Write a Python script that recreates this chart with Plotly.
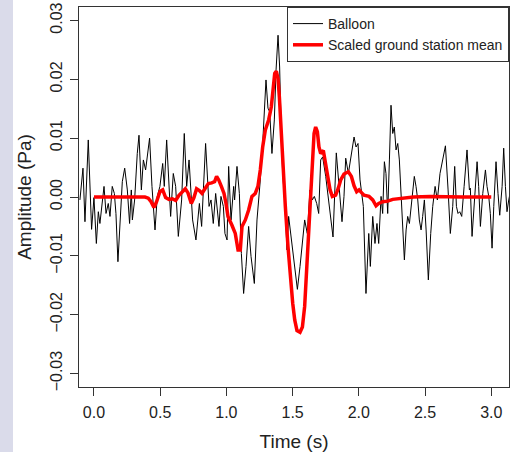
"""
Balloon vs scaled ground station mean pressure pulse
"""
import plotly.graph_objects as go

# Balloon record (time in s, amplitude in Pa)
balloon_t = [-0.106, -0.083, -0.068, -0.043, -0.018, 0.000, 0.018, 0.033, 0.045, 0.063,
             0.076, 0.091, 0.108, 0.121, 0.138, 0.154, 0.166, 0.181, 0.199, 0.214,
             0.232, 0.252, 0.269, 0.282, 0.290, 0.307, 0.327, 0.340, 0.358, 0.373,
             0.390, 0.405, 0.420, 0.438, 0.461, 0.478, 0.498, 0.519, 0.531, 0.549,
             0.579, 0.599, 0.617, 0.637, 0.662, 0.682, 0.700, 0.718, 0.745, 0.770,
             0.796, 0.813, 0.843, 0.869, 0.884, 0.901, 0.919, 0.944, 0.959, 0.977,
             0.989, 1.005, 1.017, 1.035, 1.055, 1.062, 1.080, 1.098, 1.113, 1.130,
             1.148, 1.168, 1.186, 1.211, 1.231, 1.256, 1.274, 1.299, 1.314, 1.327,
             1.344, 1.362, 1.375, 1.390, 1.402, 1.415, 1.425, 1.440, 1.458, 1.470,
             1.485, 1.501, 1.518, 1.536, 1.556, 1.591, 1.611, 1.631, 1.649, 1.664,
             1.682, 1.697, 1.712, 1.727, 1.750, 1.770, 1.805, 1.830, 1.853, 1.873,
             1.888, 1.901, 1.921, 1.944, 1.964, 1.979, 1.994, 2.009, 2.024, 2.034,
             2.054, 2.075, 2.087, 2.105, 2.122, 2.137, 2.150, 2.168, 2.180, 2.193,
             2.205, 2.218, 2.231, 2.243, 2.256, 2.268, 2.281, 2.294, 2.306, 2.319,
             2.331, 2.344, 2.357, 2.369, 2.382, 2.394, 2.407, 2.419, 2.432, 2.445,
             2.457, 2.470, 2.482, 2.495, 2.508, 2.525, 2.543, 2.558, 2.576, 2.593,
             2.613, 2.633, 2.654, 2.674, 2.691, 2.709, 2.724, 2.737, 2.749, 2.762,
             2.777, 2.795, 2.817, 2.835, 2.842, 2.855, 2.875, 2.893, 2.905, 2.918,
             2.936, 2.956, 2.968, 2.981, 2.993, 3.006, 3.019, 3.036, 3.051, 3.064,
             3.082, 3.094, 3.107, 3.119, 3.132, 3.147]
balloon_amp = [-0.0005, 0.0049, -0.0042, 0.0097, -0.0055, -0.0001, -0.0079, -0.0025, -0.0045, -0.0011,
               0.0018, -0.0028, -0.0011, -0.0033, 0.0018, 0.0006, -0.0028, -0.0110, -0.0028, 0.0026,
               0.0049, 0.0012, -0.0045, 0.0012, -0.0039, -0.0005, 0.0074, 0.0105, 0.0012, 0.0063,
               0.0046, 0.0074, 0.0100, 0.0018, -0.0056, 0.0001, 0.0018, 0.0057, 0.0018, 0.0097,
               -0.0033, 0.0040, 0.0018, -0.0067, -0.0005, 0.0108, 0.0018, 0.0063, -0.0039, -0.0073,
               -0.0011, -0.0050, 0.0091, -0.0016, -0.0005, -0.0045, 0.0006, -0.0050, 0.0001, -0.0016,
               -0.0062, -0.0073, 0.0052, -0.0039, 0.0018, -0.0005, 0.0052, 0.0006, -0.0096, -0.0164,
               -0.0118, -0.0050, -0.0101, -0.0147, -0.0039, 0.0029, 0.0091, 0.0199, 0.0151, 0.0145,
               0.0074, 0.0131, 0.0216, 0.0275, 0.0221, 0.0102, 0.0040, -0.0005, -0.0090, -0.0033,
               -0.0062, -0.0096, -0.0130, -0.0157, -0.0118, -0.0039, -0.0062, 0.0012, -0.0005, 0.0001,
               -0.0011, -0.0028, 0.0063, 0.0068, 0.0035, -0.0005, -0.0068, 0.0075, 0.0018, -0.0042,
               0.0001, 0.0066, 0.0040, 0.0074, 0.0102, 0.0085, 0.0091, 0.0029, -0.0005, -0.0016,
               -0.0164, -0.0062, -0.0118, -0.0033, -0.0079, -0.0045, -0.0079, 0.0001, -0.0028, 0.0060,
               0.0040, -0.0028, 0.0063, 0.0156, 0.0108, 0.0119, 0.0080, 0.0091, 0.0063, 0.0012,
               -0.0050, -0.0107, -0.0056, -0.0033, -0.0045, -0.0016, 0.0012, 0.0035, 0.0018, -0.0005,
               -0.0039, -0.0056, -0.0033, -0.0005, -0.0056, -0.0141, -0.0062, -0.0016, 0.0018, -0.0005,
               0.0040, 0.0063, 0.0087, 0.0012, -0.0062, -0.0016, 0.0052, -0.0016, -0.0028, -0.0025,
               -0.0033, 0.0018, 0.0080, 0.0012, 0.0015, -0.0067, -0.0005, 0.0060, 0.0018, -0.0050,
               0.0006, 0.0046, 0.0018, 0.0001, -0.0028, -0.0087, -0.0016, 0.0060, 0.0006, -0.0031,
               0.0018, 0.0083, 0.0018, -0.0025, -0.0005, 0.0012]

# Scaled ground station mean
ground_t = [0.000, 0.146, 0.272, 0.385, 0.410, 0.431, 0.453, 0.473, 0.498, 0.519,
            0.541, 0.566, 0.592, 0.617, 0.642, 0.667, 0.690, 0.710, 0.735, 0.755,
            0.775, 0.796, 0.816, 0.838, 0.864, 0.889, 0.911, 0.926, 0.942, 0.962,
            0.982, 0.997, 1.012, 1.042, 1.067, 1.088, 1.105, 1.118, 1.143, 1.168,
            1.193, 1.218, 1.238, 1.256, 1.274, 1.294, 1.319, 1.339, 1.352, 1.365,
            1.377, 1.390, 1.400, 1.413, 1.428, 1.445, 1.465, 1.483, 1.501, 1.516,
            1.533, 1.556, 1.574, 1.591, 1.606, 1.624, 1.636, 1.649, 1.662, 1.674,
            1.687, 1.699, 1.712, 1.732, 1.750, 1.767, 1.783, 1.800, 1.825, 1.845,
            1.863, 1.888, 1.921, 1.944, 1.964, 1.984, 2.002, 2.022, 2.039, 2.077,
            2.105, 2.130, 2.150, 2.180, 2.218, 2.256, 2.294, 2.331, 2.369, 2.412,
            2.538, 2.664, 2.790, 2.915, 3.000]
ground_amp = [0.0000, 0.0000, 0.0000, 0.0000, -0.0002, -0.0008, -0.0018, -0.0008, 0.0009, 0.0012,
              -0.0001, -0.0004, -0.0003, -0.0006, 0.0003, 0.0009, 0.0014, 0.0007, -0.0011, -0.0001,
              0.0014, 0.0011, 0.0006, 0.0014, 0.0023, 0.0024, 0.0026, 0.0035, 0.0029, 0.0018,
              0.0006, -0.0011, -0.0033, -0.0048, -0.0062, -0.0090, -0.0090, -0.0050, -0.0039, -0.0022,
              0.0001, 0.0006, 0.0018, 0.0046, 0.0085, 0.0114, 0.0131, 0.0153, 0.0187, 0.0210,
              0.0214, 0.0201, 0.0170, 0.0114, 0.0046, -0.0016, -0.0084, -0.0141, -0.0181, -0.0209,
              -0.0227, -0.0230, -0.0221, -0.0186, -0.0118, -0.0045, 0.0018, 0.0074, 0.0108, 0.0119,
              0.0111, 0.0085, 0.0074, 0.0079, 0.0052, 0.0029, 0.0012, 0.0001, 0.0003, 0.0015,
              0.0029, 0.0039, 0.0043, 0.0035, 0.0019, 0.0009, 0.0012, 0.0007, 0.0003, 0.0001,
              -0.0005, -0.0015, -0.0011, -0.0008, -0.0007, -0.0004, -0.0003, -0.0002, 0.0000, 0.0000,
              0.0001, 0.0000, 0.0000, 0.0000, 0.0000]

x_ticks = [0.0, 0.5, 1.0, 1.5, 2.0, 2.5, 3.0]
x_labels = ['0.0', '0.5', '1.0', '1.5', '2.0', '2.5', '3.0']
y_ticks = [-0.03, -0.02, -0.01, 0.0, 0.01, 0.02, 0.03]
y_labels = ['\u22120.03', '\u22120.02', '\u22120.01', '0.00', '0.01', '0.02', '0.03']

FONT = 'Liberation Sans, Arial, Helvetica, sans-serif'
AXIS_COLOR = '#333333'

fig = go.Figure()

fig.add_trace(go.Scatter(x=balloon_t, y=balloon_amp, mode='lines', name='Balloon',
                         line=dict(color='black', width=1)))
fig.add_trace(go.Scatter(x=ground_t, y=ground_amp, mode='lines', name='Scaled ground station mean',
                         line=dict(color='#ff0000', width=3.5)))

fig.update_xaxes(range=[-0.113, 3.134], tickvals=x_ticks, ticktext=x_labels, automargin=False,
                 ticks='outside', ticklen=8, tickwidth=1, tickcolor=AXIS_COLOR,
                 ticklabelstandoff=3,
                 showline=True, linecolor=AXIS_COLOR, linewidth=1, mirror=True,
                 showgrid=False, zeroline=False,
                 tickfont=dict(size=16, color='#222'),
                 title=dict(text='Time (s)', font=dict(size=19, color='#222'), standoff=14))
fig.update_yaxes(range=[-0.0323, 0.0323], tickvals=y_ticks, ticktext=y_labels, tickangle=-90,
                 automargin=False, ticklabelstandoff=2,
                 ticks='outside', ticklen=8, tickwidth=1, tickcolor=AXIS_COLOR,
                 showline=True, linecolor=AXIS_COLOR, linewidth=1, mirror=True,
                 showgrid=False, zeroline=False,
                 tickfont=dict(size=16, color='#222'),
                 title=dict(text='Amplitude (Pa)', font=dict(size=19, color='#222'), standoff=10))

fig.update_layout(
    width=515, height=452,
    margin=dict(l=79, r=6, t=7, b=65, autoexpand=False),
    paper_bgcolor='white', plot_bgcolor='white',
    font=dict(family=FONT, color='#222'),
    showlegend=True,
    legend=dict(x=1, y=1, xanchor='right', yanchor='top',
                bgcolor='white', bordercolor=AXIS_COLOR, borderwidth=1,
                font=dict(size=14), tracegroupgap=0, itemwidth=30),
    # lavender strip along the left edge of the page
    shapes=[dict(type='rect', xref='paper', yref='paper',
                 x0=-79 / 430, x1=-66 / 430, y0=-65 / 380, y1=1 + 7 / 380,
                 fillcolor='#dadbea', line=dict(width=0), layer='below')],
)

# drop the default page margin so the figure sits at the window's corner
fig.write_html("out.html", config={'displayModeBar': False},
               post_script="document.body.style.margin='0';")
